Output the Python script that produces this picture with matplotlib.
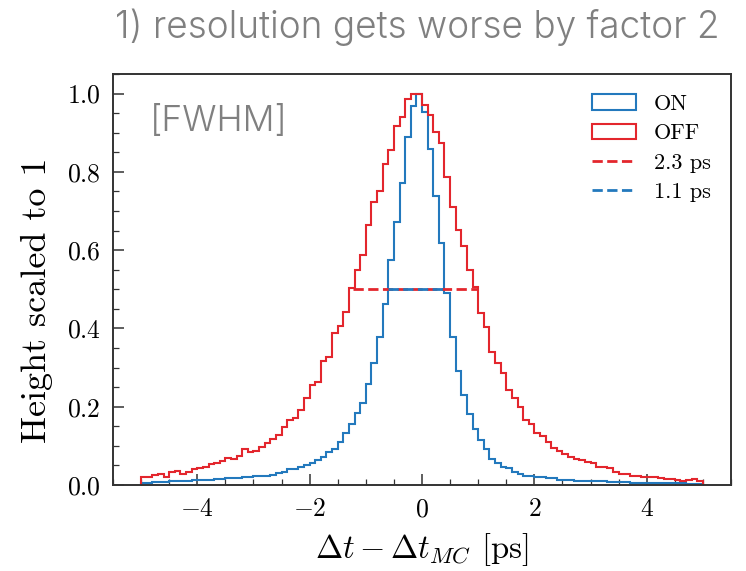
import numpy as np
import matplotlib
matplotlib.use("Agg")
import matplotlib.pyplot as plt
from matplotlib import font_manager as fm
from matplotlib.ticker import MultipleLocator

# ---- data (bin heights) ----
bin_edges = np.round(np.arange(-5.0, 5.0001, 0.1), 2)

on_heights = [
    0.004, 0.005, 0.007, 0.008, 0.008, 0.009, 0.009, 0.010, 0.011, 0.012,
    0.012, 0.013, 0.014, 0.015, 0.015, 0.017, 0.018, 0.019, 0.020, 0.021,
    0.022, 0.023, 0.024, 0.026, 0.030, 0.034, 0.040, 0.042, 0.047, 0.051,
    0.055, 0.064, 0.072, 0.085, 0.091, 0.110, 0.132, 0.156, 0.183, 0.210,
    0.258, 0.311, 0.377, 0.462, 0.575, 0.673, 0.771, 0.890, 0.969, 1.000,
    0.952, 0.858, 0.739, 0.618, 0.490, 0.379, 0.290, 0.230, 0.182, 0.142,
    0.115, 0.091, 0.066, 0.057, 0.047, 0.043, 0.034, 0.028, 0.023, 0.023,
    0.021, 0.021, 0.017, 0.017, 0.013, 0.013, 0.012, 0.011, 0.011, 0.010,
    0.010, 0.009, 0.009, 0.008, 0.008, 0.007, 0.007, 0.006, 0.006, 0.006,
    0.005, 0.005, 0.005, 0.004, 0.004, 0.004, 0.004, 0.003, 0.003, 0.003,
]

off_heights = [
    0.020, 0.020, 0.026, 0.028, 0.021, 0.033, 0.036, 0.028, 0.034, 0.041,
    0.044, 0.047, 0.053, 0.057, 0.062, 0.068, 0.066, 0.074, 0.091, 0.085,
    0.088, 0.098, 0.107, 0.117, 0.129, 0.149, 0.166, 0.172, 0.192, 0.222,
    0.256, 0.264, 0.318, 0.326, 0.388, 0.407, 0.441, 0.503, 0.550, 0.588,
    0.665, 0.722, 0.750, 0.821, 0.855, 0.918, 0.940, 0.985, 0.998, 1.000,
    0.972, 0.946, 0.901, 0.875, 0.786, 0.709, 0.652, 0.610, 0.548, 0.506,
    0.439, 0.403, 0.341, 0.311, 0.286, 0.243, 0.222, 0.200, 0.166, 0.156,
    0.134, 0.125, 0.110, 0.094, 0.086, 0.078, 0.072, 0.066, 0.063, 0.058,
    0.056, 0.047, 0.046, 0.044, 0.034, 0.029, 0.027, 0.023, 0.022, 0.021,
    0.021, 0.020, 0.017, 0.016, 0.015, 0.013, 0.011, 0.014, 0.016, 0.010,
]

series_labels = ["ON", "OFF"]
fwhm_labels = ["2.3 ps", "1.1 ps"]
fwhm_off_x = [-1.23, 1.00]
fwhm_on_x = [-0.60, 0.42]
half_max = 0.5

x_ticks = [-4, -2, 0, 2, 4]
y_ticks = [0.0, 0.2, 0.4, 0.6, 0.8, 1.0]

title = "1) resolution gets worse by factor 2"
note = "[FWHM]"
xlabel = r"$\Delta t - \Delta t_{MC}$ [ps]"
ylabel = "Height scaled to 1"

# ---- style ----
blue = "#2379bd"
red = "#e3262d"
gray = "#808080"


def light_font(size):
    for fn in ("Inter-Light.otf", "Roboto-Light.ttf", "Lato-Light.ttf"):
        for f in fm.fontManager.ttflist:
            if f.fname.endswith("/" + fn):
                return fm.FontProperties(fname=f.fname, size=size)
    return fm.FontProperties(family="DejaVu Sans", size=size)


plt.rcParams["mathtext.fontset"] = "cm"
plt.rcParams["font.family"] = ["cmr10", "DejaVu Serif"]
plt.rcParams["axes.formatter.use_mathtext"] = True
plt.rcParams["axes.unicode_minus"] = True

fig = plt.figure(figsize=(7.46, 5.71), dpi=100)
ax = fig.add_axes([113 / 746, 86 / 571, (731 - 113) / 746, (485 - 74) / 571])

centers = (bin_edges[:-1] + bin_edges[1:]) / 2
ax.hist(centers, bins=bin_edges, weights=on_heights, histtype="step",
        color=blue, lw=1.5, label=series_labels[0])
ax.hist(centers, bins=bin_edges, weights=off_heights, histtype="step",
        color=red, lw=1.5, label=series_labels[1])
ax.plot(fwhm_off_x, [half_max, half_max], ls="--", color=red, lw=2,
        label=fwhm_labels[0])
ax.plot(fwhm_on_x, [half_max, half_max], ls="--", color=blue, lw=2,
        label=fwhm_labels[1])

ax.set_xlim(-5.5, 5.5)
ax.set_ylim(0, 1.05)
ax.set_xticks(x_ticks)
ax.set_yticks(y_ticks)
ax.xaxis.set_minor_locator(MultipleLocator(0.5))
ax.yaxis.set_minor_locator(MultipleLocator(0.05))
ax.tick_params(which="both", direction="in", top=False, right=False,
               labelsize=18.5, color="#333333")
ax.tick_params(which="major", length=8, width=1.1, pad=9)
ax.tick_params(which="minor", length=4.5, width=0.9)
for s in ax.spines.values():
    s.set_linewidth(1.4)
    s.set_color("#333333")

ax.set_xlabel(xlabel, fontsize=23.5, labelpad=7)
ax.set_ylabel(ylabel, fontsize=26)
ax.yaxis.set_label_coords(-0.097, 0.45)

leg = ax.legend(loc="upper right", frameon=False, fontsize=16,
                handlelength=2.0, labelspacing=0.45, borderaxespad=0.5)

ax.text(0.06, 0.885, note, transform=ax.transAxes,
        fontproperties=light_font(25.5), color=gray, va="center", ha="left")

fig.text(0.965, 0.952, title, fontproperties=light_font(26.7), color=gray,
         ha="right", va="center")

fig.savefig("out.png", dpi=100)
